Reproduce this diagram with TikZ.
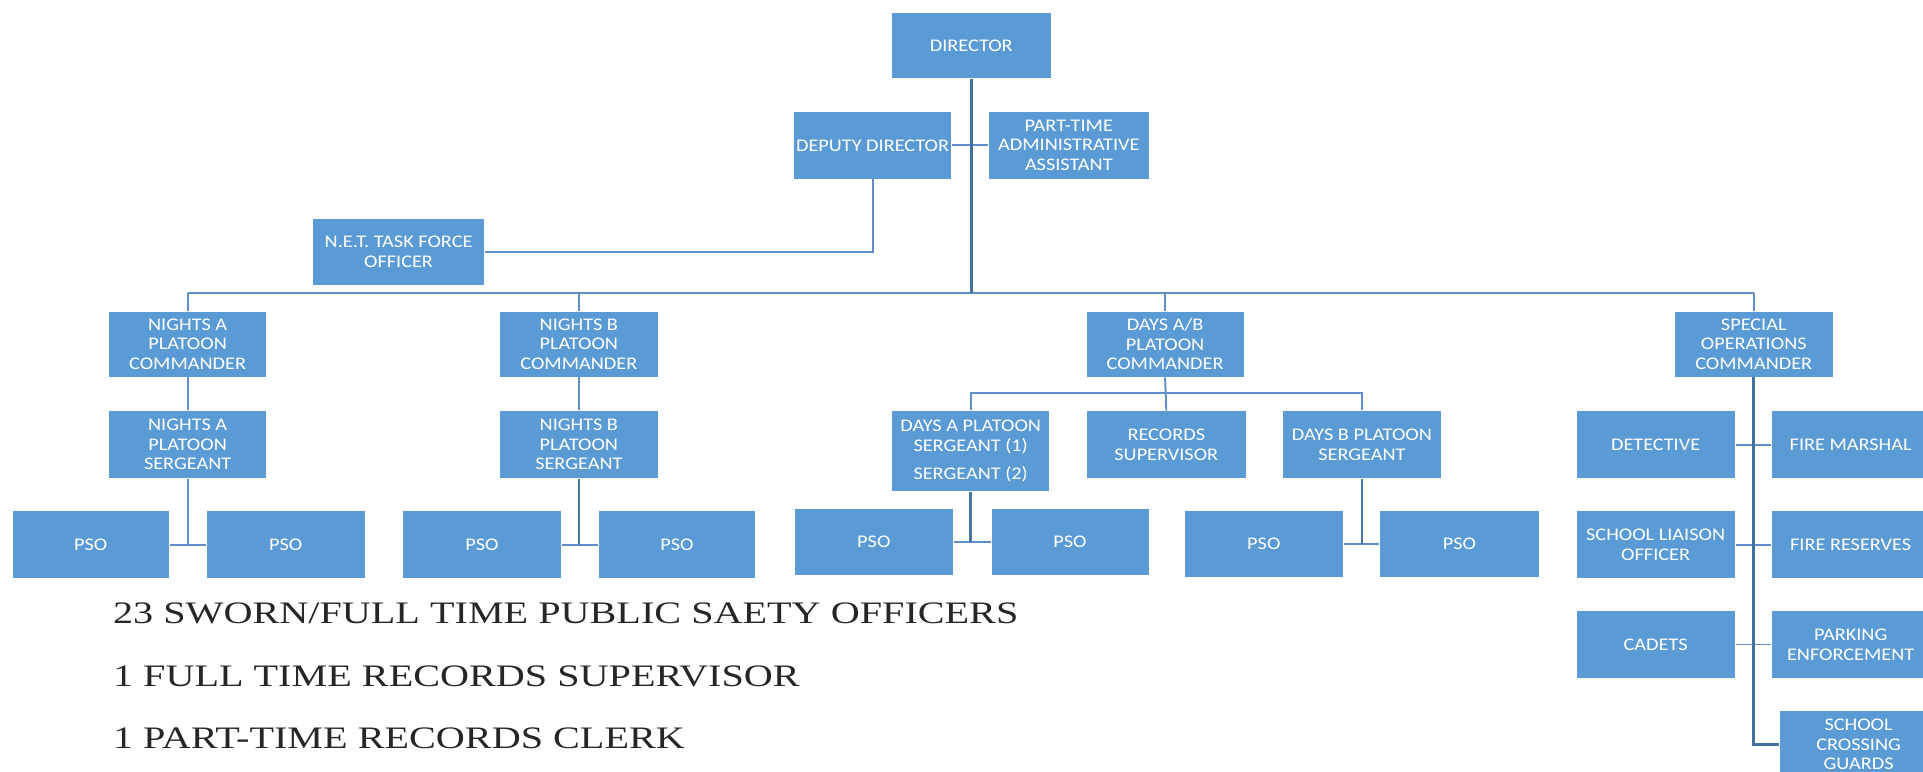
\documentclass[tikz,border=0pt]{standalone}
\usepackage{fontspec}
\newfontfamily\boxfamily[FakeStretch=1.14]{Carlito}
\newfontfamily\notefamily[FakeStretch=1.285]{Liberation Serif}
\definecolor{boxblue}{HTML}{5B9BD5}
\definecolor{lineblue}{HTML}{5F8FC6}
\definecolor{trunkblue}{HTML}{41719C}
\definecolor{notegray}{HTML}{262626}
\tikzset{
  box/.style={rectangle, fill=boxblue, draw=white, line width=0.6pt, inner sep=0pt,
    align=center, text=white, font=\boxfamily\fontsize{14.5}{16}\selectfont},
  conn/.style={draw=lineblue, line width=1.6pt},
  trunk/.style={draw=trunkblue, line width=2.6pt},
  midline/.style={draw=trunkblue!80!lineblue, line width=2pt},
  note/.style={anchor=base west, inner sep=0pt, text=notegray, font=\notefamily\fontsize{25.5}{28}\selectfont}
}
\begin{document}
\begin{tikzpicture}[x=1pt,y=-1pt]
\useasboundingbox (0,0) rectangle (1568,629);
\clip (0,0) rectangle (1568,629);
% top
\node[box, minimum width=130pt, minimum height=54pt] (dir) at (792,37) {DIRECTOR};
\node[box, minimum width=129pt, minimum height=55pt] (dep) at (711.5,118.5) {DEPUTY DIRECTOR};
\node[box, minimum width=131pt, minimum height=55pt] (adm) at (871.5,118.5) {PART-TIME\\ADMINISTRATIVE\\ASSISTANT};
\node[box, minimum width=140pt, minimum height=55pt] (net) at (325,205.5) {N.E.T. TASK FORCE\\OFFICER};
% level 2
\node[box, minimum width=129pt, minimum height=54pt] (nac) at (153,280.5) {NIGHTS A\\PLATOON\\COMMANDER};
\node[box, minimum width=129pt, minimum height=54pt] (nbc) at (472,280.5) {NIGHTS B\\PLATOON\\COMMANDER};
\node[box, minimum width=129pt, minimum height=54pt] (dab) at (950,280.5) {DAYS A/B\\PLATOON\\COMMANDER};
\node[box, minimum width=130pt, minimum height=54pt] (spc) at (1430,280.5) {SPECIAL\\OPERATIONS\\COMMANDER};
% level 3
\node[box, minimum width=129pt, minimum height=55pt] (nas) at (153,362.5) {NIGHTS A\\PLATOON\\SERGEANT};
\node[box, minimum width=129pt, minimum height=55pt] (nbs) at (472,362.5) {NIGHTS B\\PLATOON\\SERGEANT};
\node[box, minimum width=129pt, minimum height=66pt] (das) at (791.5,368) {DAYS A PLATOON\\SERGEANT (1)\\[7pt]SERGEANT (2)};
\node[box, minimum width=130pt, minimum height=55pt] (rec) at (951,362.5) {RECORDS\\SUPERVISOR};
\node[box, minimum width=129pt, minimum height=55pt] (dbs) at (1110.5,362.5) {DAYS B PLATOON\\SERGEANT};
% PSO
\node[box, minimum width=128pt, minimum height=55pt] (p1) at (74,444) {PSO};
\node[box, minimum width=130pt, minimum height=55pt] (p2) at (233,444) {PSO};
\node[box, minimum width=130pt, minimum height=55pt] (p3) at (393,444) {PSO};
\node[box, minimum width=128pt, minimum height=55pt] (p4) at (552,444) {PSO};
\node[box, minimum width=130pt, minimum height=55pt] (p5) at (712.5,442) {PSO};
\node[box, minimum width=129pt, minimum height=55pt] (p6) at (872.5,442) {PSO};
\node[box, minimum width=130pt, minimum height=55pt] (p7) at (1030.5,443.5) {PSO};
\node[box, minimum width=130pt, minimum height=55pt] (p8) at (1190,443.5) {PSO};
% special ops
\node[box, minimum width=130pt, minimum height=55pt] (det) at (1350,362.5) {DETECTIVE};
\node[box, minimum width=130pt, minimum height=55pt] (fm) at (1509,362.5) {FIRE MARSHAL};
\node[box, minimum width=130pt, minimum height=55pt] (sl) at (1350,444) {SCHOOL LIAISON\\OFFICER};
\node[box, minimum width=130pt, minimum height=55pt] (fr) at (1509,444) {FIRE RESERVES};
\node[box, minimum width=130pt, minimum height=55pt] (cad) at (1350,525.5) {CADETS};
\node[box, minimum width=130pt, minimum height=55pt] (pe) at (1509,525.5) {PARKING\\ENFORCEMENT};
\node[box, minimum width=130pt, minimum height=55pt] (scg) at (1515.5,607) {SCHOOL\\CROSSING\\GUARDS};
% connectors
\coordinate (busL) at (153,239);
\coordinate (busR) at (1430,239);
\draw[conn] (busL) -- (busR);
\draw[conn] (nac.north) -- (nac.north |- busL);
\draw[conn] (nbc.north) -- (nbc.north |- busL);
\draw[conn] (dab.north) -- (dab.north |- busL);
\draw[conn] (spc.north) -- (spc.north |- busL);
\draw[conn] (dep.east) -- (adm.west);
\draw[conn] (dep.south) |- (net.east);
\draw[trunk] (dir.south) -- (dir.south |- busL);
\draw[conn] (nac.south) -- (nas.north);
\draw[conn] (nbc.south) -- (nbs.north);
\draw[conn] (p1.east) -- (p2.west);
\draw[conn] (p3.east) -- (p4.west);
\draw[conn] (p5.east) -- (p6.west);
\draw[conn] (p7.east) -- (p8.west);
\draw[conn] (nas.south) -- (nas.south |- p1.east);
\draw[midline] (nbs.south) -- (nbs.south |- p3.east);
\draw[midline] (das.south) -- (das.south |- p5.east);
\draw[midline] (dbs.south) -- (dbs.south |- p7.east);
\draw[conn] (das.north) -- ++(0,-14) -| (dbs.north);
\draw[conn] (dab.south) -- (rec.north);
\draw[conn] (det.east) -- (fm.west);
\draw[conn] (sl.east) -- (fr.west);
\draw[conn] (cad.east) -- (pe.west);
\draw[trunk] (spc.south) |- (scg.west);
% notes
\node[note] (n1) at (92,508) {23 SWORN/FULL TIME PUBLIC SAETY OFFICERS};
\node[note] (n2) at (92,560) {1 FULL TIME RECORDS SUPERVISOR};
\node[note] (n3) at (92,610) {1 PART-TIME RECORDS CLERK};
\end{tikzpicture}
\end{document}
